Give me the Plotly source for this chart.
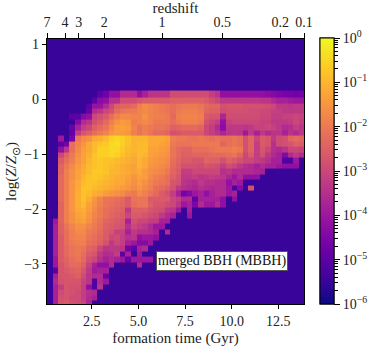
import plotly.graph_objects as go

# cell values are -10*log10(fraction), so 55 means 10^-5.5 (the empty background)
B = 55

# one row per metallicity bin, top row first
LEFT_COLS = [
    [B,B,B,B,B,B,B,B,B,50,47,42,42,36,36,36],
    [B,B,B,B,B,B,B,B,50,43,42,35,35,29,29,29],
    [B,B,B,B,B,B,B,50,41,41,36,30,25,24,24,23],
    [B,B,B,B,B,B,B,48,36,34,30,28,23,21,20,20],
    [B,B,B,B,50,50,44,42,30,28,26,22,19,17,17,18],
    [B,B,B,B,B,44,36,34,28,26,23,19,16,14,15,19],
    [B,B,B,B,48,38,32,30,25,23,21,17,14,13,14,18],
    [B,B,B,B,50,32,27,25,22,20,18,15,14,14,15,19],
    [B,B,40,B,46,20,17,16,12,11,9,6,5,6,8,10],
    [B,B,50,46,22,18,15,12,9,8,7,5,4,6,8,10],
    [B,B,42,34,22,17,14,12,9,6,6,5,5,7,9,10],
    [B,B,30,24,20,16,13,11,8,6,6,5,6,8,10,11],
    [B,B,26,22,19,15,13,10,8,7,8,8,9,10,11,12],
    [B,B,24,20,17,14,12,9,8,7,8,9,10,11,12,13],
    [B,B,24,19,16,13,11,9,7,7,8,10,10,11,12,13],
    [B,B,23,19,16,13,10,8,7,8,9,10,11,12,13,15],
    [B,B,23,19,15,12,9,8,8,9,10,11,12,12,14,16],
    [B,B,23,19,15,12,8,8,9,10,11,12,13,14,15,17],
    [B,B,23,19,15,11,8,9,11,12,14,15,16,17,19,20],
    [B,B,23,19,15,11,8,11,15,18,21,21,22,23,26,21],
    [B,B,24,19,15,11,9,13,16,19,21,22,23,24,26,22],
    [B,B,24,19,15,12,11,14,17,20,22,23,24,25,33,25],
    [B,B,24,19,16,13,12,15,18,20,22,24,25,26,30,26],
    [B,40,24,19,16,14,13,16,19,21,24,25,26,27,38,28],
    [B,38,25,21,18,16,16,18,20,22,25,26,27,28,35,30],
    [B,38,25,22,19,17,17,20,21,23,26,27,31,31,38,33],
    [B,38,26,22,19,18,18,21,22,24,26,30,29,32,35,34],
    [B,38,26,22,20,19,19,22,23,25,28,33,30,32,38,40],
    [B,38,26,23,21,20,21,24,25,30,34,33,33,34,46,50],
    [B,38,26,23,21,20,22,26,27,33,36,35,32,50,38,B],
    [B,40,26,24,22,21,23,28,30,35,38,36,38,40,48,40],
    [B,40,27,25,23,23,25,31,38,42,42,36],
    [B,50,27,26,25,24,27,33,39,38,38],
    [B,38,27,27,26,25,29,34,36,36,48],
    [B,36,28,27,27,27,31,34,52,36,40],
    [B,38,32,27,28,28,32,42,52,34],
    [B,38,29,27,28,29,32,35,36],
    [B,38,28,27,29,29,32,36,38],
    [B,38,27,26,28,29,30,37],
]
MID_COLS = [
    [42,38,34,34,34,34,29,29,29,29,29,29,29,32,34],
    [27,26,26,26,26,26,25,25,25,25,25,25,26,28,30],
    [19,17,18,19,20,21,22,21,20,20,20,21,23,24,24],
    [18,17,18,19,20,21,22,20,19,19,19,20,24,25,25],
    [18,16,18,19,19,20,23,19,18,18,18,19,26,27,27],
    [18,17,18,20,20,20,22,20,19,19,19,20,28,30,32],
    [21,19,20,21,21,22,25,24,23,23,23,24,30,32,36],
    [21,19,21,23,23,24,28,27,26,26,26,26,30,32,34],
    [10,10,12,12,12,13,19,20,20,21,21,20,21,22,21],
    [9,9,12,12,13,14,20,21,21,21,20,20,20,20,20],
    [9,9,13,13,14,15,21,23,24,24,22,22,22,21,20],
    [9,10,13,14,15,16,21,23,25,25,24,24,24,23,23],
    [10,12,14,15,16,17,22,24,26,26,27,27,24,25,25],
    [10,12,15,16,17,18,23,25,28,28,28,29,27,28,29],
    [12,14,16,17,18,20,24,26,32,32,30,30,30,30,30],
    [13,14,17,19,20,22,25,27,33,33,32,34,33,32,33],
    [14,16,18,20,21,22,27,28,34,35,36,33,35,35,36],
    [15,17,19,22,23,25,28,33,35,36,37,35,36,37,36],
    [17,19,21,23,26,28,32,38,46,44,40,38,42,38,36],
    [21,21,26,26,26,26,30,32,36,36,50,38,38,38,38],
    [21,21,25,27,27,29,30,34,40,38,45,36,40,40,36],
    [25,25,27,28,29,33,34,40,B,38],
    [26,27,29,30,33,36,38,B,B,40],
    [30,30,32,32,38,38],
    [32,33,36,40,40],
    [35,35,36,38,B,36],
    [42,40,40,42],
    [44,44,40],
    [38,36],
    [40],
    [40,40,40],
    [36],
]
RIGHT_COLS = [
    [42,42,42,42,42,42,42,42,43,44,45,46,46,47,46],
    [33,33,33,33,33,33,33,34,34,36,38,38,39,40,40],
    [28,27,27,27,28,28,28,28,29,30,33,33,34,33,33],
    [29,28,28,28,28,29,29,30,30,31,32,33,33,33,33],
    [37,29,29,29,29,29,29,30,30,32,32,31,31,30,31],
    [42,31,30,30,30,30,30,31,31,33,33,33,32,30,32],
    [43,33,33,33,34,33,31,31,30,31,33,36,35,32,34],
    [37,34,33,34,40,33,38,33,36,34,34,38,34,36,33],
    [22,22,21,22,28,24,30,26,27,33,29,28,24,23,24],
    [24,22,21,22,28,24,32,26,27,35,29,28,27,25,26],
    [20,20,19,20,28,24,32,27,30,35,36,34,30,30,31],
    [23,22,21,24,30,26,32,28,33,36,38,44,36,33,36],
    [28,25,26,28,30,30,32,33,35,38,38,52,52,40],
    [32,29,30,33,35,36,38,36,38,38,40,42,42,42],
    [35,34,36,36,36,36,37,38],
    [34,37,40,36,42,42,42],
    [36,42,38,40],
    [36,40,52,44,B,28],
    [36,40,38],
    [42,B,42],
    [42],
]

REDSHIFT_LABELS = ["7", "4", "3", "2", "1", "0.5", "0.2", "0.1"]
REDSHIFT_AGES = [0.1, 1.07, 1.8, 3.17, 6.27, 9.49, 12.6, 13.88]
AGE_TICKS = [2.5, 5.0, 7.5, 10.0, 12.5]
LOGZ_TICKS = [1, 0, -1, -2, -3]
CBAR_DECADES = [-6, -5, -4, -3, -2, -1, 0]
FONT = "Liberation Serif"


def pad(row, n):
    return row + [B] * (n - len(row))


def part(table, i, n):
    return pad(table[i], n) if i < len(table) else [B] * n


rows = [part(LEFT_COLS, i, 16) + part(MID_COLS, i, 15) + part(RIGHT_COLS, i, 15)
        for i in range(len(LEFT_COLS))]
z = [[-v / 10 for v in row] for row in rows[::-1]]
z.append([-B / 10] * 46)  # nothing above the top bin

x_edges = [0.1 + 0.3 * i for i in range(47)]
y_edges = [-3.767 + 0.1 * i for i in range(39)] + [0.155, 1.2]

cbar_text = ["10<sup>%s</sup>" % str(d).replace("-", "−") for d in CBAR_DECADES]
cbar_minor = [d + f for d in CBAR_DECADES[:-1]
              for f in [0.301, 0.477, 0.602, 0.699, 0.778, 0.845, 0.903, 0.954]]

cbar_common = dict(
    x=1.062, xanchor="left", xpad=0, y=0, yanchor="bottom", len=1.004, ypad=0,
    thickness=14, outlinecolor="black", outlinewidth=1,
    ticks="outside", tickcolor="black", tickmode="array",
)

fig = go.Figure()
# same picture twice: one colorbar carries the long labelled ticks, the other the minor ones
fig.add_trace(go.Heatmap(
    x=x_edges, y=y_edges, z=z, zmin=-6, zmax=0, colorscale="Plasma", hoverinfo="skip",
    colorbar=dict(**cbar_common, tickvals=CBAR_DECADES, ticktext=cbar_text,
                  ticklen=6, tickwidth=1,
                  tickfont=dict(family=FONT, size=14, color="#222")),
))
fig.add_trace(go.Heatmap(
    x=x_edges, y=y_edges, z=z, zmin=-6, zmax=0, colorscale="Plasma", hoverinfo="skip",
    colorbar=dict(**cbar_common, tickvals=cbar_minor, showticklabels=False,
                  ticklen=4, tickwidth=0.8),
))
# empty trace so the redshift axis gets drawn
fig.add_trace(go.Scatter(x=[], y=[], xaxis="x2", showlegend=False))

fig.update_layout(
    width=374, height=348, autosize=False,
    margin=dict(l=47, r=70, t=39, b=44, autoexpand=False),
    plot_bgcolor="white", paper_bgcolor="white",
    font=dict(family=FONT, size=13, color="#222"),
    xaxis=dict(
        range=[0.1, 13.88], tickvals=AGE_TICKS, ticktext=["2.5", "5.0", "7.5", "10.0", "12.5"],
        ticks="outside", ticklen=4, tickwidth=1, tickcolor="black", automargin=False,
        showline=True, linecolor="black", linewidth=1.2, showgrid=False, zeroline=False,
        tickfont=dict(size=14),
        title=dict(text="formation time (Gyr)", font=dict(size=15), standoff=4),
    ),
    xaxis2=dict(
        overlaying="x", side="top", range=[0.1, 13.88],
        tickvals=REDSHIFT_AGES, ticktext=REDSHIFT_LABELS,
        ticks="outside", ticklen=5, tickwidth=1, tickcolor="black", automargin=False,
        showline=True, linecolor="black", linewidth=1.2, showgrid=False, zeroline=False,
        tickfont=dict(size=14),
        title=dict(text="redshift", font=dict(size=15), standoff=3),
    ),
    yaxis=dict(
        range=[-3.73, 1.1], tickvals=LOGZ_TICKS,
        ticktext=["1", "0", "−1", "−2", "−3"],
        ticks="outside", ticklen=4, tickwidth=1, tickcolor="black", automargin=False,
        showline=True, linecolor="black", linewidth=1.2, mirror=True,
        showgrid=False, zeroline=False, tickfont=dict(size=14),
        title=dict(text="log(<i>Z</i>/<i>Z</i><sub>⊙</sub>)", font=dict(size=15), standoff=3),
    ),
    annotations=[dict(
        x=9.49, y=-2.94, xref="x", yref="y", text="merged BBH (MBBH)", showarrow=False,
        bgcolor="white", bordercolor="#555", borderwidth=1, borderpad=1,
        font=dict(family=FONT, size=14, color="#111"),
    )],
)

fig.write_html("out.html", config={"displayModeBar": False},
               post_script="document.body.style.margin='0';")
